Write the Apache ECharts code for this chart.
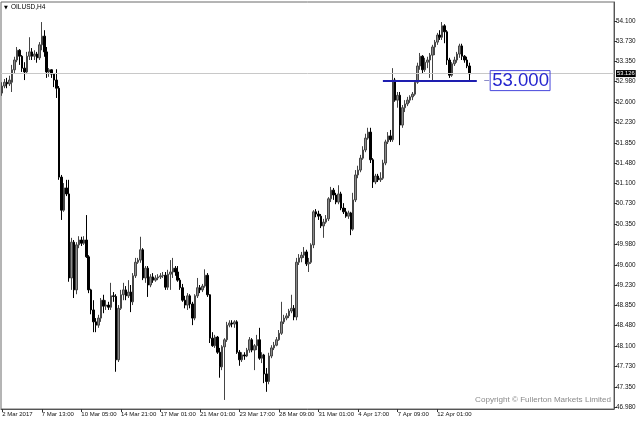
<!DOCTYPE html>
<html><head><meta charset="utf-8">
<script src="https://cdn.jsdelivr.net/npm/echarts@6/dist/echarts.min.js"></script>
<style>html,body{margin:0;padding:0;background:#fff}#c{width:640px;height:422px}</style>
</head><body><div id="c"></div>
<script>
// ---- data (OILUSD, H4) ----
const chartTitle = 'OILUSD,H4';
const tickLabels = ['2 Mar 2017','7 Mar 13:00','10 Mar 05:00','14 Mar 21:00','17 Mar 01:00','21 Mar 01:00',
  '23 Mar 17:00','28 Mar 09:00','31 Mar 01:00','4 Apr 17:00','7 Apr 09:00','12 Apr 01:00'];
const barsPerTick = 16;      // one time label every 16 H4 bars
const slotCount = 248;       // bars that fit the window (incl. empty right margin)
const priceTicks = [54.1,53.73,53.35,52.98,52.6,52.23,51.85,51.48,51.1,50.73,50.35,49.98,49.6,49.23,48.85,48.48,48.1,47.73,47.35,46.98];
const priceMin = 46.943, priceMax = 54.45;
const lastPrice = 53.126;
const levelPrice = 53.0;
const levelFromBar = 154, levelToBar = 192, dashFromBar = 195, dashToBar = 197;

const opens = [
52.77,52.90,52.97,52.94,52.97,53.20,53.38,53.56,53.45,53.23,
53.16,53.45,53.53,53.45,53.49,53.42,53.66,53.82,53.53,53.16,
53.20,53.12,53.01,52.86,51.22,50.61,51.02,50.91,49.36,50.02,
49.14,49.97,50.06,50.00,50.06,49.75,49.14,48.77,48.55,48.49,
48.62,48.95,48.84,48.86,48.82,49.03,49.02,47.85,48.80,49.05,
49.14,49.03,49.10,48.92,49.40,49.65,49.69,49.88,49.36,49.54,
49.23,49.38,49.32,49.36,49.38,49.40,49.41,49.19,49.43,49.47,
49.54,49.47,49.32,49.18,48.95,48.86,49.03,48.88,48.62,49.03,
49.18,49.14,49.21,49.41,49.05,48.25,48.11,48.27,47.99,47.72,
48.09,48.22,48.49,48.53,48.51,48.55,47.99,47.85,47.94,47.92,
48.03,48.22,48.03,48.11,48.22,47.88,47.94,47.59,47.45,47.92,
48.07,48.12,48.22,48.34,48.55,48.62,48.66,48.75,48.80,48.64,
49.65,49.73,49.78,49.84,49.62,49.65,49.97,50.58,50.54,50.50,
50.32,50.39,50.45,50.82,50.98,50.89,50.76,50.91,50.65,50.58,
50.50,50.56,50.26,50.80,51.26,51.35,51.57,51.72,51.94,52.05,
51.54,51.13,51.24,51.17,51.20,51.48,51.87,51.98,51.91,53.01,
52.64,52.73,52.18,52.50,52.57,52.64,52.70,52.75,52.97,53.27,
53.45,53.20,53.34,53.38,53.47,53.62,53.71,53.84,53.80,54.01,
53.90,53.38,53.10,53.31,53.38,53.49,53.64,53.45,53.38,53.27];
const closes = [
52.90,52.97,52.94,53.01,53.20,53.38,53.56,53.45,53.23,53.16,
53.45,53.53,53.45,53.49,53.42,53.66,53.82,53.53,53.16,53.20,
53.12,53.01,52.86,51.22,50.61,51.02,50.91,49.36,50.02,49.14,
49.97,50.06,50.00,50.06,49.75,49.14,48.77,48.55,48.49,48.62,
48.95,48.84,48.86,48.82,49.03,49.02,47.85,48.80,49.05,49.14,
49.03,49.10,48.92,49.40,49.65,49.69,49.88,49.36,49.54,49.23,
49.38,49.32,49.36,49.38,49.40,49.41,49.19,49.43,49.47,49.54,
49.47,49.32,49.18,48.95,48.86,49.03,48.88,48.62,49.03,49.18,
49.14,49.21,49.41,49.05,48.25,48.11,48.27,47.99,47.72,48.09,
48.22,48.49,48.53,48.51,48.55,47.99,47.85,47.94,47.92,48.03,
48.22,48.03,48.11,48.22,47.88,47.94,47.59,47.45,47.92,48.07,
48.12,48.22,48.34,48.55,48.62,48.66,48.75,48.80,48.64,49.65,
49.73,49.78,49.84,49.62,49.65,49.97,50.58,50.54,50.50,50.32,
50.39,50.45,50.82,50.98,50.89,50.76,50.91,50.65,50.58,50.50,
50.56,50.26,50.80,51.26,51.35,51.57,51.72,51.94,52.05,51.54,
51.13,51.24,51.17,51.20,51.48,51.87,51.98,51.91,53.01,52.64,
52.73,52.18,52.50,52.57,52.64,52.70,52.75,52.97,53.27,53.45,
53.20,53.34,53.38,53.47,53.62,53.71,53.84,53.80,54.01,53.90,
53.38,53.10,53.31,53.38,53.49,53.64,53.45,53.38,53.27,53.126];
const lows = [
52.72,52.86,52.86,52.90,52.79,53.14,53.34,53.29,53.16,53.01,
53.12,53.38,53.38,53.38,53.33,53.38,53.56,53.44,53.05,53.07,
53.05,52.88,52.68,51.17,50.43,50.58,50.87,49.29,49.14,48.99,
49.06,49.91,49.95,49.97,49.73,49.08,48.69,48.36,48.36,48.44,
48.55,48.71,48.77,48.77,48.77,48.92,47.63,47.81,48.77,48.95,
48.95,48.99,48.73,48.86,49.36,49.62,49.64,49.32,49.27,49.01,
49.19,49.27,49.29,49.32,49.34,49.36,49.14,49.14,49.14,49.36,
49.40,49.29,49.14,48.92,48.80,48.77,48.80,48.49,48.58,48.99,
49.08,49.10,49.18,49.01,48.16,48.09,48.07,47.96,47.52,47.66,
47.11,48.18,48.45,48.45,48.44,47.96,47.74,47.81,47.85,47.90,
47.98,47.99,47.66,48.03,47.85,47.79,47.42,47.26,47.40,47.88,
48.03,48.10,48.20,48.31,48.51,48.58,48.62,48.71,48.58,48.58,
49.60,49.65,49.73,49.58,49.47,49.62,49.91,50.48,50.43,50.28,
50.10,50.36,50.41,50.76,50.80,50.72,50.72,50.61,50.54,50.47,
50.45,50.15,50.23,50.76,51.20,51.31,51.54,51.68,51.91,51.48,
51.02,51.09,51.13,51.13,51.17,51.44,51.83,51.87,51.87,52.61,
52.50,51.81,52.13,52.42,52.53,52.59,52.64,52.72,52.94,53.20,
53.14,53.16,53.23,53.05,52.99,53.47,53.66,53.75,53.75,53.69,
53.29,53.05,53.07,53.27,53.33,53.42,53.38,53.33,53.23,53.01];
const highs = [
52.97,53.03,53.05,53.09,53.29,53.44,53.62,53.58,53.47,53.34,
53.53,53.80,53.60,53.56,53.53,53.71,54.08,53.93,53.62,53.23,
53.21,53.14,53.21,52.90,51.26,51.11,51.17,51.17,50.10,50.06,
50.02,50.13,50.12,50.13,50.52,49.78,49.16,48.95,48.62,48.68,
48.99,49.05,48.95,48.92,49.27,49.10,49.06,48.86,49.14,49.27,
49.21,49.32,49.23,49.45,49.73,49.73,50.12,49.91,49.58,49.58,
49.43,49.45,49.41,49.43,49.45,49.47,49.47,49.51,49.69,49.73,
49.58,49.58,49.36,49.25,49.03,49.08,49.06,48.92,49.06,49.36,
49.23,49.25,49.52,49.45,49.06,48.36,48.31,48.29,48.07,48.12,
48.25,48.55,48.58,48.58,48.58,48.58,48.03,47.99,47.99,48.07,
48.27,48.25,48.14,48.31,48.44,47.99,47.96,47.70,47.98,48.12,
48.18,48.27,48.40,48.92,48.68,48.71,48.79,49.05,48.86,49.73,
49.80,49.84,49.93,49.88,49.73,50.00,50.61,50.63,50.60,50.54,
50.45,50.52,50.85,51.04,51.02,50.93,51.07,50.95,50.74,50.65,
50.60,50.58,50.93,51.35,51.43,51.63,51.79,52.02,52.13,52.13,
51.57,51.28,51.28,51.31,51.54,51.91,52.05,52.09,53.23,53.05,
52.79,52.79,52.55,52.64,52.70,52.73,52.79,53.01,53.33,53.51,
53.47,53.42,53.44,53.51,53.66,53.75,53.88,53.93,54.08,54.04,
53.93,53.42,53.34,53.44,53.53,53.68,53.68,53.47,53.44,53.33];

// ---- build chart ----
const categories = Array.from({length: slotCount}, (_, i) => 'bar' + i);
const candles = opens.map((o, i) => [o, closes[i], lows[i], highs[i]]);
const isTick = (idx) => idx % barsPerTick === 0 && (idx / barsPerTick) < tickLabels.length;
const FONT = 'Liberation Sans';

const chart = echarts.init(document.getElementById('c'));
chart.setOption({
  animation: false,
  backgroundColor: '#ffffff',
  textStyle: {fontFamily: FONT},
  grid: {left: 1, right: 26, top: 2, bottom: 13, show: true, borderColor: '#6b6b6b', borderWidth: 1,
         backgroundColor: '#ffffff', outerBoundsMode: 'none', containLabel: false},
  xAxis: {
    type: 'category', data: categories, boundaryGap: true,
    axisLine: {show: true, lineStyle: {color: '#555', width: 1}},
    axisTick: {show: true, alignWithLabel: true, length: 3, interval: isTick, lineStyle: {color: '#333'}},
    axisLabel: {interval: isTick, formatter: (v, i) => tickLabels[i / barsPerTick] || '',
                align: 'left', fontSize: 6, color: '#111', margin: 2, fontFamily: FONT},
    splitLine: {show: false}
  },
  yAxis: {
    type: 'value', position: 'right', min: priceMin, max: priceMax,
    axisLine: {show: true, lineStyle: {color: '#555', width: 1}},
    axisTick: {show: true, length: 3, customValues: priceTicks, lineStyle: {color: '#333'}},
    axisLabel: {customValues: priceTicks, formatter: v => v.toFixed(3), fontSize: 6.4, color: '#111', margin: 2, fontFamily: FONT},
    splitLine: {show: false}
  },
  graphic: [
    {type: 'text', left: 4, top: 5, style: {text: '▼', fontSize: 5, fill: '#000', fontFamily: 'DejaVu Sans'}},
    {type: 'text', left: 11, top: 4, style: {text: chartTitle, fontSize: 6.5, fill: '#000', fontFamily: FONT}},
    {type: 'text', right: 29, top: 396, style: {text: 'Copyright © Fullerton Markets Limited', fontSize: 8.1, fill: '#8a8a8a', fontFamily: FONT}}
  ],
  series: [{
    type: 'candlestick', data: candles, barWidth: 2,
    itemStyle: {color: '#8a8a8a', color0: '#000', borderColor: '#454545', borderColor0: '#000', borderWidth: 1},
    markLine: {
      silent: true, symbol: ['none', 'none'], animation: false,
      data: [
        {yAxis: lastPrice, lineStyle: {color: '#c8c8c8', width: 1, type: 'solid'},
         label: {show: true, position: 'end', distance: 2, formatter: lastPrice.toFixed(3), color: '#fff',
                 backgroundColor: '#000', fontSize: 5.8, padding: [1, 1, 0, 1], fontFamily: FONT}},
        [{coord: [levelFromBar, levelPrice], lineStyle: {color: '#1e1eb0', width: 2, type: 'solid'}, label: {show: false}},
         {coord: [levelToBar, levelPrice]}],
        [{coord: [dashFromBar, levelPrice], lineStyle: {color: '#8c8cc8', width: 1, type: 'solid'},
          label: {show: true, position: 'end', distance: 1, formatter: levelPrice.toFixed(3), color: '#2626cf',
                  fontSize: 18.6, fontFamily: FONT, borderColor: '#4646dc', borderWidth: 1, padding: [1, 1, 1, 2], lineHeight: 18}},
         {coord: [dashToBar, levelPrice]}]
      ]
    }
  }]
});
</script></body></html>
